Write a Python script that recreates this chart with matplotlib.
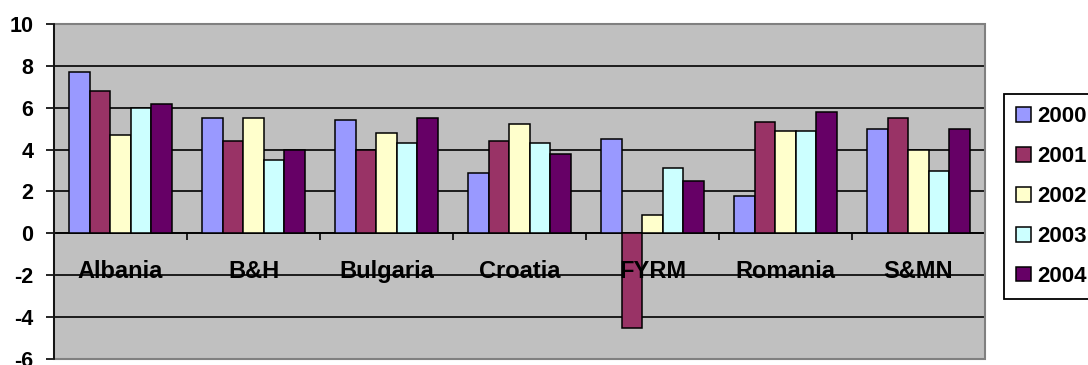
import matplotlib
matplotlib.use("Agg")
import matplotlib.pyplot as plt
import numpy as np
from matplotlib.patches import Rectangle

countries = ["Albania", "B&H", "Bulgaria", "Croatia", "FYRM", "Romania", "S&MN"]
years = ["2000", "2001", "2002", "2003", "2004"]
growth = {
    "2000": [7.7, 5.5, 5.4, 2.9, 4.5, 1.8, 5.0],
    "2001": [6.8, 4.4, 4.0, 4.4, -4.5, 5.3, 5.5],
    "2002": [4.7, 5.5, 4.8, 5.2, 0.9, 4.9, 4.0],
    "2003": [6.0, 3.5, 4.3, 4.3, 3.1, 4.9, 3.0],
    "2004": [6.2, 4.0, 5.5, 3.8, 2.5, 5.8, 5.0],
}
y_ticks = [-6, -4, -2, 0, 2, 4, 6, 8, 10]

colors = ["#9999FF", "#993366", "#FFFFCC", "#CCFFFF", "#660066"]

plt.rcParams["font.family"] = ["Liberation Sans", "DejaVu Sans"]
plt.rcParams["font.weight"] = "bold"
plt.rcParams["axes.unicode_minus"] = False

fig = plt.figure(figsize=(10.88, 3.65), dpi=100)
ax = fig.add_axes([54 / 1088, 1 - 359 / 365, (985 - 54) / 1088, (359 - 24) / 365])
ax.set_facecolor("#C0C0C0")

x = np.arange(len(countries))
w = 1 / 6.5
for i, (yr, col) in enumerate(zip(years, colors)):
    ax.bar(x + (i - 2) * w, growth[yr], width=w, color=col,
           edgecolor="black", linewidth=1.1, label=yr, zorder=3)

ax.set_xlim(-0.5, len(countries) - 0.5)
ax.set_ylim(y_ticks[0], y_ticks[-1])
ax.set_yticks(y_ticks)
ax.yaxis.grid(True, color="black", linewidth=1.2)
ax.set_axisbelow(True)

# category axis sits on the zero line
for s in ("top", "right"):
    ax.spines[s].set_visible(False)
ax.spines["bottom"].set_position(("data", 0))
ax.spines["bottom"].set_linewidth(1.2)
ax.spines["bottom"].set_zorder(2)
ax.spines["left"].set_linewidth(1.2)

ax.set_xticks(np.arange(len(countries) + 1) - 0.5)
ax.set_xticklabels([])
ax.set_xticks(x, minor=True)
ax.set_xticklabels(countries, minor=True, fontsize=17, fontweight="bold")
ax.tick_params(axis="x", which="major", direction="out", length=5, width=1.2)
ax.tick_params(axis="x", which="minor", length=0, pad=19)
ax.xaxis.set_zorder(4)
ax.tick_params(axis="y", direction="out", length=6, width=1.2, labelsize=15.5, pad=9)
for t in ax.get_yticklabels():
    t.set_fontweight("bold")

# plot-area border
ax.add_patch(Rectangle((0, 0), 1, 1, transform=ax.transAxes, fill=False,
                       edgecolor="#808080", linewidth=1.5, zorder=5, clip_on=False))
ax.spines["left"].set_zorder(6)

leg = fig.legend(loc="upper left", bbox_to_anchor=(1004 / 1088, 1 - 94 / 365),
                 bbox_transform=fig.transFigure, borderaxespad=0,
                 prop={"size": 16, "weight": "bold"}, handlelength=0.65,
                 handleheight=0.65, handletextpad=0.3, labelspacing=0.85,
                 borderpad=0.55, fancybox=False, framealpha=1, edgecolor="black")
leg.get_frame().set_linewidth(1.3)

fig.savefig("out.png", dpi=100)
